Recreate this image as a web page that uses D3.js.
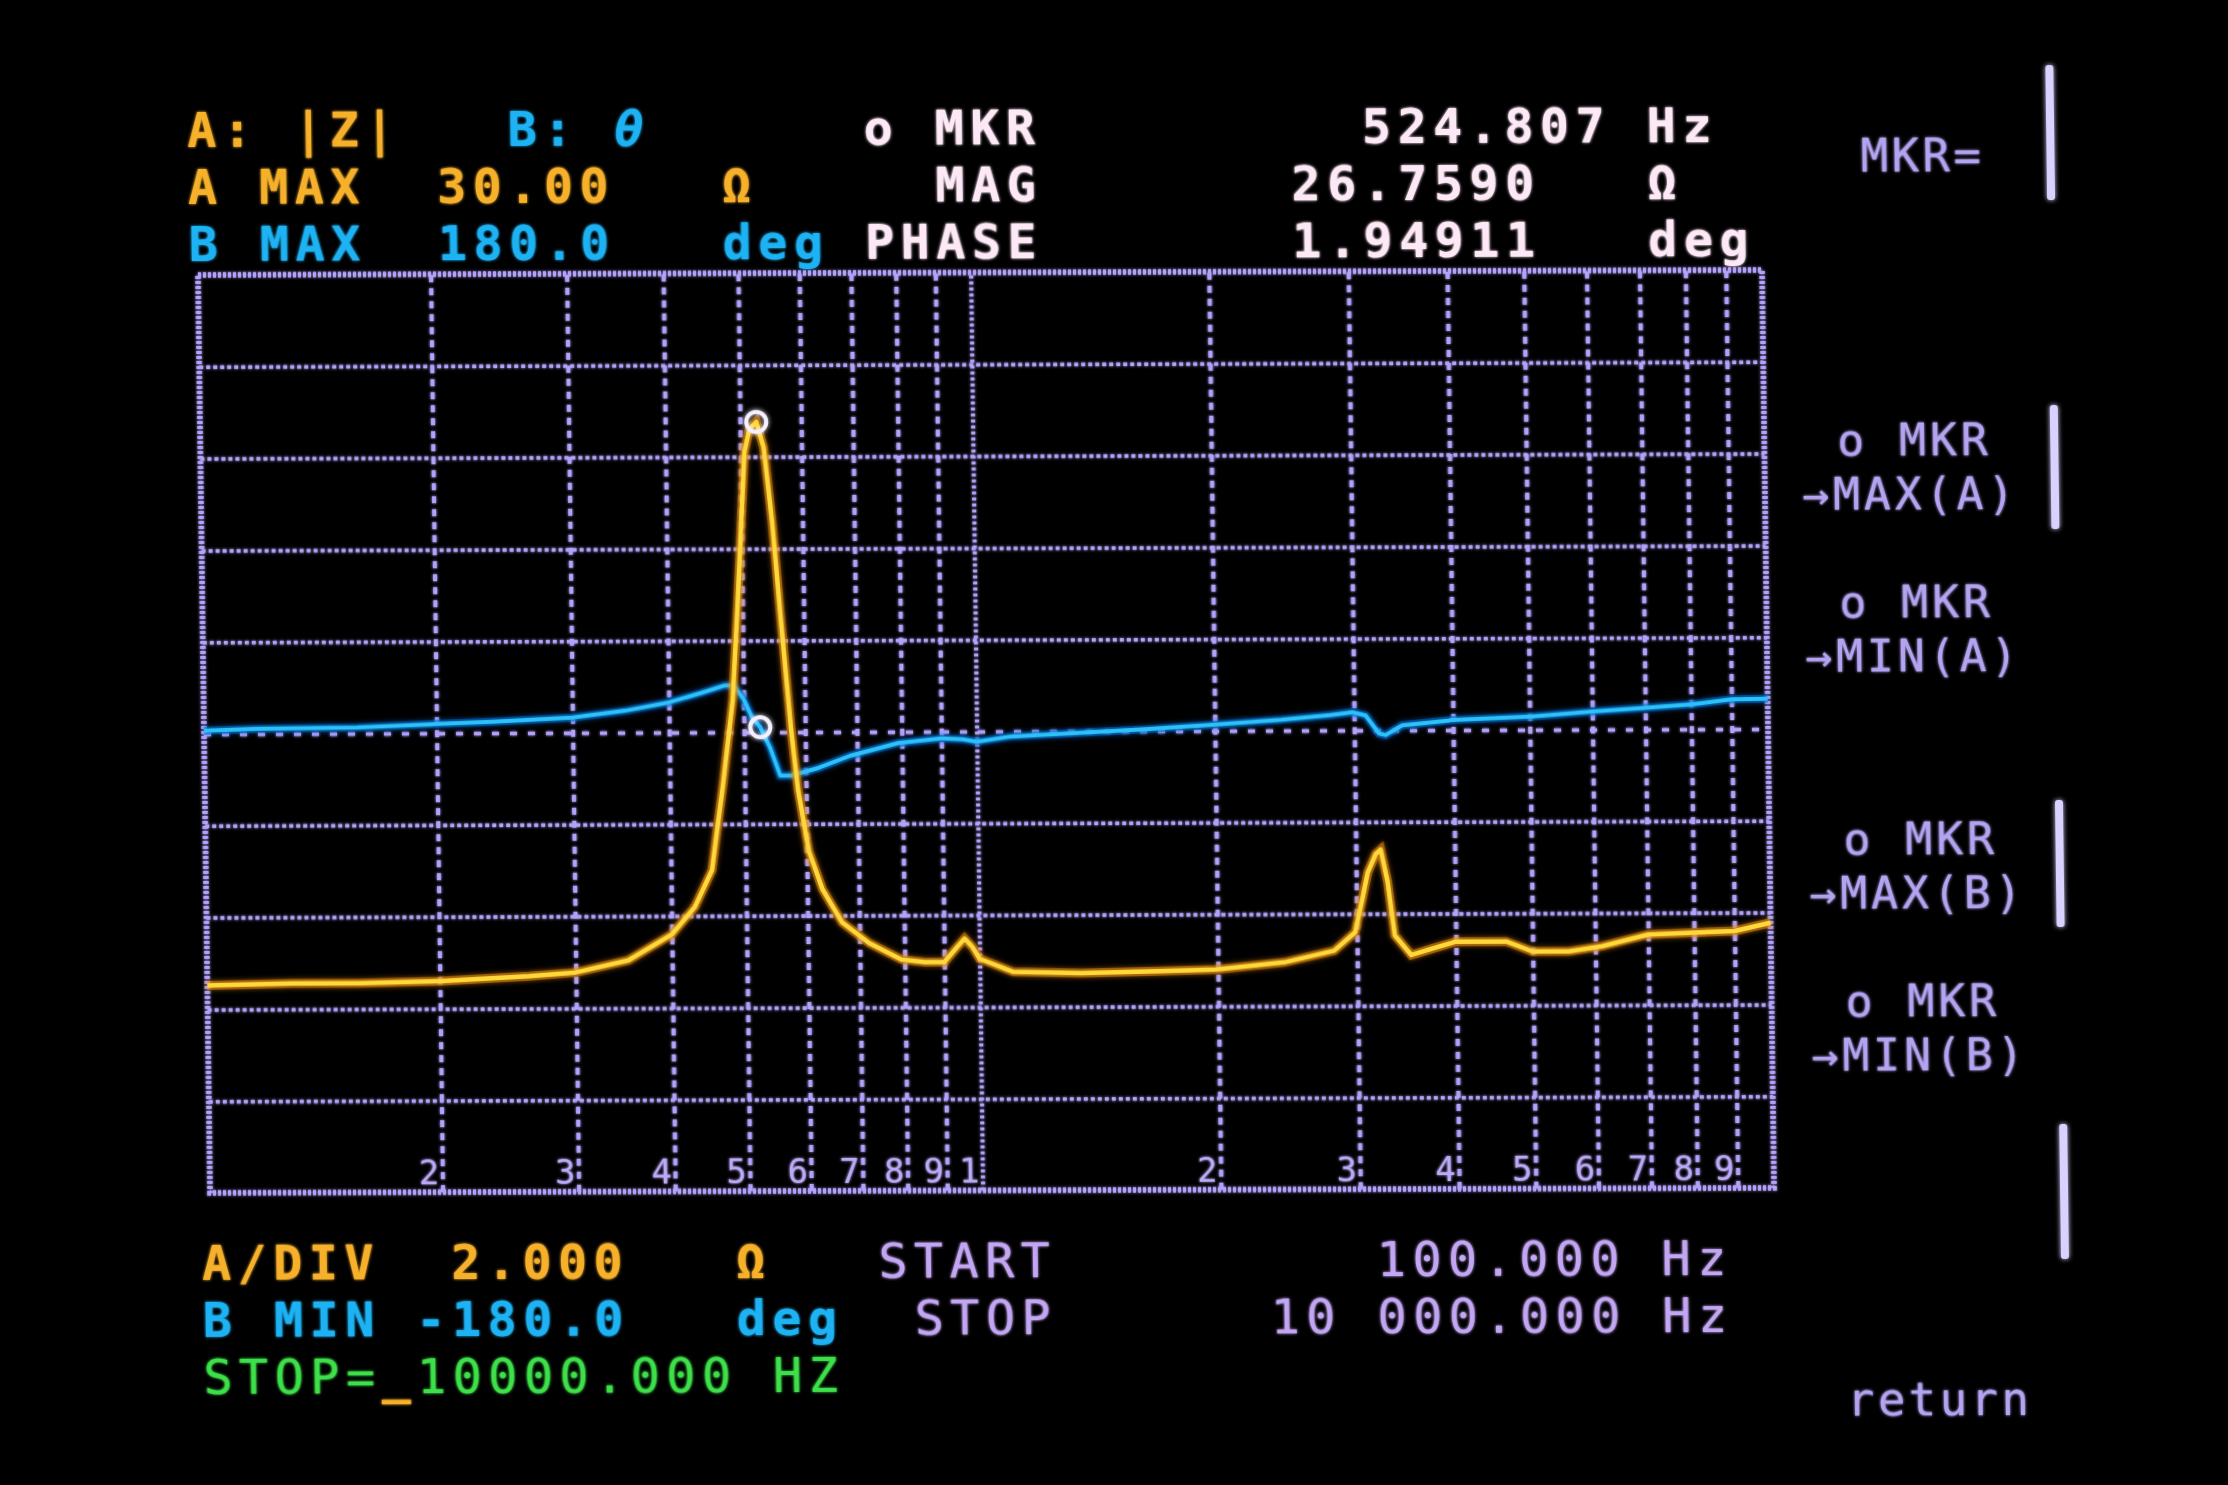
<!DOCTYPE html>
<html><head><meta charset="utf-8">
<script src="https://cdn.jsdelivr.net/npm/d3@7"></script>
<style>
html,body{margin:0;padding:0;background:#000;overflow:hidden;}
svg{display:block;}
</style></head><body>
<svg id="c" width="2228" height="1485"></svg>
<script>
// ---- data ----
const freqA = [100,129,158,200,261,300,351,400,429,452,469,484,493,500,506,514,524.8,536,548,561,575,586,604,628,665,720,792,850,900,935,957,980,1000,1103,1343,1636,1990,2425,2806,2985,3050,3103,3178,3225,3287,3350,3512,3750,4000,4630,5000,5558,6120,7000,7990,9000,10000];
const magA = [14.52,14.56,14.56,14.6,14.7,14.78,15.04,15.6,16.2,17.0,18.9,20.7,22.8,24.6,26.1,26.6,26.76,26.2,24.6,22.35,20.1,18.74,17.4,16.57,15.85,15.4,15.04,14.98,14.98,15.3,15.49,15.3,15.05,14.76,14.73,14.76,14.8,14.95,15.2,15.6,16.3,16.9,17.3,17.4,16.7,15.53,15.1,15.25,15.39,15.39,15.17,15.17,15.28,15.53,15.57,15.6,15.78];
const freqB = [100,117,158,200,236,300,351,400,441,472,486,500,512,524.8,540,556,575,623,686,792,900,960,1000,1103,1343,1636,1990,2425,2800,2985,3103,3225,3287,3450,4000,5040,6000,7000,7990,9000,10000];
const phaseB = [1.3,2.0,2.4,3.6,4.4,6.0,8.6,11.8,15.5,18.3,18.3,13,6,1.95,-6,-17,-17,-14.1,-9.3,-4.4,-2.6,-3.0,-4.0,-2.0,-0.65,0.65,2.4,4.2,6.0,7.1,5.8,-1.3,-1.9,1.9,3.9,5.2,7.1,8.4,9.7,11.7,11.9];
const gridFreqs = [200,300,400,500,600,700,800,900,1000,2000,3000,4000,5000,6000,7000,8000,9000];
const gridLabels = ["2","3","4","5","6","7","8","9","1","2","3","4","5","6","7","8","9"];
const marker = {freq:524.807, mag:26.7590, phase:1.94911};
const aMax = 30, aDiv = 2, aMin = 10, bMax = 180, bMin = -180, fStart = 100, fMid = 1000, fStop = 10000;

// ---- drawing ----
const svg = d3.select("#c");
svg.append("rect").attr("width",2228).attr("height",1485).attr("fill","#000");
const defs = svg.append("defs");
function glowFilter(id, sd){
  const f = defs.append("filter").attr("id",id).attr("filterUnits","userSpaceOnUse")
    .attr("x",-200).attr("y",-200).attr("width",2700).attr("height",1900);
  f.append("feGaussianBlur").attr("in","SourceGraphic").attr("stdDeviation",sd).attr("result","b");
  const m = f.append("feMerge"); m.append("feMergeNode").attr("in","b"); m.append("feMergeNode").attr("in","SourceGraphic");
}
glowFilter("glow",2.5); glowFilter("tglow",1.6);

// slight perspective of the photographed screen
const scene = svg.append("g").attr("transform","matrix(1,-0.0032,0.0131,1,-3.6,0.63)");

const PX = 198, PY = 275, W = 1564, H = 918;
// the CRT's first decade is drawn a little narrower than the second
const x = d3.scaleLog().domain([fStart,fMid,fStop]).range([0,W*0.494,W]);
const yA = d3.scaleLinear().domain([aMin,aMax]).range([H,0]);
const yB = d3.scaleLinear().domain([bMin,bMax]).range([H,0]);
const gridColor = "#b3a1fb";

const plot = scene.append("g").attr("transform",`translate(${PX},${PY})`);
const gridG = plot.append("g").attr("filter","url(#tglow)");

// horizontal grid
const hTicks = d3.range(aMin+aDiv, aMax, aDiv).filter(v => v !== (aMin+aMax)/2);
gridG.append("g").call(d3.axisLeft(yA).tickValues(hTicks).tickSize(-W).tickFormat(""))
  .call(g=>g.select(".domain").remove())
  .selectAll("line").attr("stroke",gridColor).attr("stroke-width",3.5).attr("stroke-dasharray","4,3");
// centre (0 deg) line
gridG.append("g").call(d3.axisLeft(yB).tickValues([0]).tickSize(-W).tickFormat(""))
  .call(g=>g.select(".domain").remove())
  .selectAll("line").attr("stroke",gridColor).attr("stroke-width",3.5).attr("stroke-dasharray","7,11");
// vertical grid
gridG.append("g").attr("transform",`translate(0,${H})`)
  .call(d3.axisBottom(x).tickValues(gridFreqs).tickSize(-H).tickFormat(""))
  .call(g=>g.select(".domain").remove())
  .selectAll("line").attr("stroke",gridColor).attr("stroke-width",4)
  .attr("stroke-dasharray",d => d===fMid ? "3,3" : "7,6");
// border
gridG.append("rect").attr("width",W).attr("height",H).attr("fill","none")
  .attr("stroke",gridColor).attr("stroke-width",5.5).attr("stroke-dasharray","3,2");
// decade labels
plot.selectAll("text.tl").data(gridFreqs).enter().append("text").attr("class","tl")
  .attr("x",d=>x(d)-3).attr("y",H-8).attr("text-anchor","end")
  .attr("font-family","DejaVu Sans Mono").attr("font-size",34).attr("fill","#bca9f7")
  .attr("filter","url(#tglow)")
  .text((d,i)=>gridLabels[i]);

// traces
const lineA = d3.line().x((d,i)=>x(freqA[i])).y(d=>yA(d));
const lineB = d3.line().x((d,i)=>x(freqB[i])).y(d=>yB(d));
plot.append("path").datum(phaseB).attr("d",lineB).attr("fill","none").attr("stroke","#0b6fd6").attr("stroke-width",8).attr("stroke-opacity",0.55).attr("filter","url(#glow)");
plot.append("path").datum(phaseB).attr("d",lineB).attr("fill","none").attr("stroke","#2cc2f7").attr("stroke-width",4).attr("stroke-linejoin","round");
plot.append("path").datum(magA).attr("d",lineA).attr("fill","none").attr("stroke","#e68a12").attr("stroke-width",9).attr("stroke-opacity",0.55).attr("filter","url(#glow)");
plot.append("path").datum(magA).attr("d",lineA).attr("fill","none").attr("stroke","#ffd83a").attr("stroke-width",4.5).attr("stroke-linejoin","round");

// markers
[[marker.freq, yA(marker.mag)],[marker.freq, yB(marker.phase)]].forEach(([f,yy])=>{
  plot.append("circle").attr("cx",x(f)).attr("cy",yy).attr("r",10).attr("fill","none")
    .attr("stroke","#f4f0ff").attr("stroke-width",4).attr("filter","url(#glow)");
});

// ---- texts ----
const X0 = 189, CW = 35.6, FS = 48.5;
const ORANGE = "#f6b02a", CYAN = "#1fb2f3", WHITE = "#fde8f6", LAV = "#c3a6f3", GREEN = "#3ee04a", MENU = "#b4a3f0";
function t(col,y,s,color,opts={}){
  const fs = opts.size||FS;
  scene.append("text").attr("x",X0+col*CW).attr("y",y)
    .attr("font-family","DejaVu Sans Mono").attr("font-size",fs)
    .attr("letter-spacing",(CW-0.602*fs).toFixed(2))
    .attr("font-weight",opts.weight||"bold").attr("font-style",opts.italic?"italic":"normal")
    .attr("fill",color).attr("filter","url(#tglow)").attr("xml:space","preserve")
    .text(s);
}
// header
const R1 = 147, R2 = 204, R3 = 261;
t(0,R1,"A: |Z|",ORANGE); t(9,R1,"B:",CYAN); t(12,R1,"θ",CYAN,{italic:true});
t(19,R1,"o MKR",WHITE); t(33,R1,"524.807 Hz",WHITE);
t(0,R2,"A MAX",ORANGE); t(7,R2,"30.00",ORANGE); t(15,R2,"Ω",ORANGE);
t(21,R2,"MAG",WHITE); t(31,R2,"26.7590",WHITE); t(41,R2,"Ω",WHITE);
t(0,R3,"B MAX",CYAN); t(7,R3,"180.0",CYAN); t(15,R3,"deg",CYAN);
t(19,R3,"PHASE",WHITE); t(31,R3,"1.94911",WHITE); t(41,R3,"deg",WHITE);
// footer
const F1 = 1280, F2 = 1337, F3 = 1394;
t(0,F1,"A/DIV",ORANGE); t(7,F1,"2.000",ORANGE); t(15,F1,"Ω",ORANGE);
t(19,F1,"START",LAV,{weight:"normal"}); t(33,F1,"100.000 Hz",LAV,{weight:"normal"});
t(0,F2,"B MIN",CYAN); t(6,F2,"-180.0",CYAN); t(15,F2,"deg",CYAN);
t(20,F2,"STOP",LAV,{weight:"normal"}); t(30,F2,"10 000.000 Hz",LAV,{weight:"normal"});
t(0,F3,"STOP=",GREEN,{weight:"normal"}); t(5,F3,"_",ORANGE); t(6,F3,"10000.000 HZ",GREEN,{weight:"normal"});

// right soft-key menu
const MS = 45, MCW = 30.9;
function m(xp,y,s,size){
  const fs = size||MS;
  scene.append("text").attr("x",xp).attr("y",y).attr("font-family","DejaVu Sans Mono")
    .attr("font-size",fs).attr("letter-spacing",(MCW-0.602*fs).toFixed(2))
    .attr("fill",MENU).attr("filter","url(#tglow)").text(s);
}
m(1862,177,"MKR=",46);
m(1835,461,"o MKR"); m(1799,515,"→MAX(A)");
m(1835,623,"o MKR"); m(1800,677,"→MIN(A)");
m(1836,860,"o MKR"); m(1801,914,"→MAX(B)");
m(1836,1022,"o MKR"); m(1801,1076,"→MIN(B)");
m(1832,1421,"return",46);
[[71,206],[411,535],[806,933],[1130,1265]].forEach(([y1,y2])=>{
  scene.append("rect").attr("x",2048).attr("y",y1).attr("width",8).attr("height",y2-y1)
    .attr("rx",3).attr("fill","#d9d2ff").attr("filter","url(#glow)");
});
</script>
</body></html>
